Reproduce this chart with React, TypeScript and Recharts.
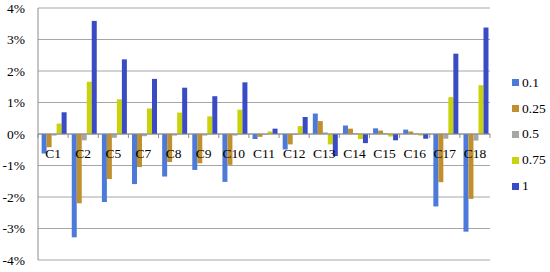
import React from 'react';
import { BarChart, Bar, XAxis, YAxis, CartesianGrid, ReferenceLine, Legend } from 'recharts';

const categories = ['C1', 'C2', 'C5', 'C7', 'C8', 'C9', 'C10', 'C11', 'C12', 'C13', 'C14', 'C15', 'C16', 'C17', 'C18'];

// values in percent
const s01 = [-0.62, -3.28, -2.16, -1.59, -1.35, -1.14, -1.52, -0.16, -0.49, 0.65, 0.27, 0.18, 0.14, -2.3, -3.1];
const s025 = [-0.42, -2.2, -1.43, -1.05, -0.89, -0.93, -0.98, -0.09, -0.33, 0.41, 0.17, 0.11, 0.08, -1.53, -2.06];
const s05 = [-0.05, -0.2, -0.12, -0.07, -0.05, -0.05, -0.05, -0.02, -0.03, 0.05, 0.03, 0.03, 0.02, -0.15, -0.21];
const s075 = [0.33, 1.66, 1.1, 0.81, 0.68, 0.56, 0.77, 0.08, 0.25, -0.33, -0.16, -0.08, -0.05, 1.17, 1.55];
const s1 = [0.69, 3.59, 2.37, 1.75, 1.47, 1.2, 1.64, 0.17, 0.54, -0.7, -0.29, -0.2, -0.15, 2.55, 3.38];

const yTicks = [-4, -3, -2, -1, 0, 1, 2, 3, 4];

const series = [
  { key: 's01', name: '0.1', color: '#4d7ad8', values: s01 },
  { key: 's025', name: '0.25', color: '#c0902e', values: s025 },
  { key: 's05', name: '0.5', color: '#a6a6a6', values: s05 },
  { key: 's075', name: '0.75', color: '#c8d30c', values: s075 },
  { key: 's1', name: '1', color: '#3a4cc4', values: s1 },
];

const data = categories.map((c, i) => {
  const row: any = { name: c };
  series.forEach(s => { row[s.key] = s.values[i]; });
  return row;
});

const W = 550;
const H = 272;
const X_H = 12;
const M = { top: 8, right: 60, bottom: 0, left: 0 };
const Y_W = 38;
const FONT = '"Liberation Serif", "DejaVu Serif", serif';
const plotH = H - M.top - M.bottom - X_H;
const zeroY = M.top + plotH / 2;
const band = (W - M.right - Y_W) / categories.length;

// labels sit just under the zero line, with small ticks at category borders
const CatTick = (props: any) => {
  const { x, payload, index } = props;
  return (
    <g>
      <line x1={x - band / 2} x2={x - band / 2} y1={zeroY} y2={zeroY + 4} stroke="#8c8c8c" />
      {index === categories.length - 1 && (
        <line x1={x + band / 2} x2={x + band / 2} y1={zeroY} y2={zeroY + 4} stroke="#8c8c8c" />
      )}
      <text x={x} y={zeroY + 23.5} textAnchor="middle" fontSize={13.5} fontFamily={FONT} fill="#000">
        {payload.value}
      </text>
    </g>
  );
};

const LegendBox = () => (
  <div style={{ fontFamily: FONT, fontSize: 13.5, color: '#000' }}>
    {series.map(s => (
      <div key={s.key} style={{ display: 'flex', alignItems: 'center', height: 25.8 }}>
        <span style={{ width: 7, height: 7, background: s.color, marginRight: 3, display: 'inline-block' }} />
        <span>{s.name}</span>
      </div>
    ))}
  </div>
);

export default function App() {
  return (
    <div style={{ position: 'absolute', left: 0, top: 0, background: '#fff' }}>
      <BarChart width={W} height={H} data={data} margin={M} barCategoryGap="12%" barGap={0}>
        <CartesianGrid vertical={false} stroke="#a6a6a6" />
        <YAxis
          width={Y_W}
          domain={[-4, 4]}
          ticks={yTicks}
          tickFormatter={(v: number) => `${v}%`}
          axisLine={{ stroke: '#8c8c8c' }}
          tickLine={false}
          tickMargin={7}
          tick={{ fontSize: 13.5, fontFamily: FONT, fill: '#000' }}
        />
        <ReferenceLine y={0} stroke="#8c8c8c" />
        {series.map(s => (
          <Bar key={s.key} dataKey={s.key} name={s.name} fill={s.color} isAnimationActive={false} />
        ))}
        <XAxis
          dataKey="name"
          height={X_H}
          axisLine={false}
          tickLine={false}
          tick={(p: any) => <CatTick {...p} />}
          interval={0}
        />
        <Legend
          layout="vertical"
          align="center"
          verticalAlign="middle"
          wrapperStyle={{ left: 512, top: 70, width: 40 }}
          content={<LegendBox />}
        />
      </BarChart>
    </div>
  );
}
